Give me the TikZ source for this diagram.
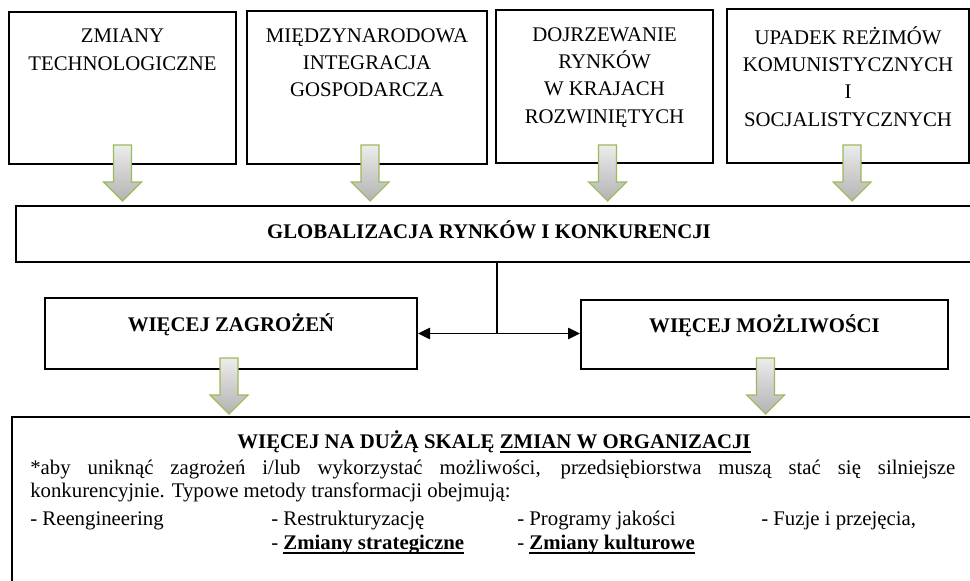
\documentclass[tikz,border=0pt]{standalone}
\usepackage{fontspec}
\setmainfont{Liberation Serif}
\usetikzlibrary{calc,arrows.meta}

\definecolor{arrowgreen}{RGB}{155,187,89}

% underline that runs just under the baseline
\newcommand{\undl}[1]{\setbox0\hbox{#1}\rlap{\rule[-3.6pt]{\wd0}{1.4pt}}\box0}

\begin{document}
\begin{tikzpicture}[x=0.75pt, y=-0.75pt,
    box/.style={draw, line width=1.5pt, rectangle, inner sep=0pt},
    boxtext/.style={anchor=north, align=center, inner sep=0pt,
        font=\fontsize{15.6pt}{20.5pt}\selectfont,
        execute at begin node=\strut},
    midbox/.style={box, font=\fontsize{15.6pt}{17.25pt}\selectfont\bfseries,
        text height=10.5pt, text depth=13.5pt},
    body/.style={inner sep=0pt, font=\fontsize{15.6pt}{17.25pt}\selectfont},
    link/.style={line width=1.1pt},
    blockarrow/.pic={
        \draw[draw=arrowgreen, line width=0.8pt, top color=gray!15, bottom color=gray!60]
            (0,0) -- (-19,-19) -- (-9,-19) -- (-9,-56) -- (9,-56) -- (9,-19) -- (19,-19) -- cycle;
    }]
    \clip (0,0) rectangle (970,581);

    % Four causes
    \node [box, minimum width=170.25pt, minimum height=114pt] (tech) at (122.5,88) {};
    \node [boxtext] at ([yshift=-13.5pt]tech.north) {ZMIANY\\TECHNOLOGICZNE};

    \node [box, minimum width=180pt, minimum height=114.75pt] (integr) at (367,87.5) {};
    \node [boxtext] at ([yshift=-13.5pt]integr.north) {MIĘDZYNARODOWA\\INTEGRACJA\\GOSPODARCZA};

    \node [box, minimum width=162.75pt, minimum height=114.75pt] (dojrz) at (604.5,86.5) {};
    \node [boxtext] at ([yshift=-13.5pt]dojrz.north) {DOJRZEWANIE\\RYNKÓW\\W KRAJACH\\ROZWINIĘTYCH};

    \node [box, minimum width=181.5pt, minimum height=115.5pt] (upadek) at (848,86) {};
    \node [boxtext] at ([yshift=-13.5pt]upadek.north) {UPADEK REŻIMÓW\\KOMUNISTYCZNYCH\\I\\SOCJALISTYCZNYCH};

    % Globalisation
    \node [box, minimum width=723pt, minimum height=42pt] (glob) at (498,234) {};
    \node [body, anchor=base, font=\fontsize{15.6pt}{17.25pt}\selectfont\bfseries] (globtext) at (489,238)
        {GLOBALIZACJA RYNKÓW I KONKURENCJI};

    % Threats and chances
    \node [midbox, minimum width=279pt, minimum height=53.25pt] (threats) at (231,333.5) {WIĘCEJ ZAGROŻEŃ};
    \node [midbox, minimum width=275.25pt, minimum height=51.75pt] (opps) at (764.5,334.5) {WIĘCEJ MOŻLIWOŚCI};

    % Changes in the organisation
    \node [box, minimum width=726pt, minimum height=129.75pt] (orgbox) at (496,503.5) {};
    \node [body, anchor=base, font=\fontsize{15.6pt}{17.25pt}\selectfont\bfseries] (orgtitle) at (494,448)
        {WIĘCEJ NA DUŻĄ SKALĘ \undl{ZMIAN W ORGANIZACJI}};
    \node [body, anchor=north west, text width=693.75pt, align=justify,
        execute at begin node=\strut] (orgpara) at (30,458)
        {*aby uniknąć zagrożeń i/lub wykorzystać możliwości, przedsiębiorstwa muszą stać się silniejsze\linebreak
        konkurencyjnie. Typowe metody transformacji obejmują:};
    \node [body, anchor=base west] (reeng) at (30,525) {- Reengineering};
    \node [body, anchor=base west] (restr) at (271,525) {- Restrukturyzację};
    \node [body, anchor=base west] (jakosc) at (517,525) {- Programy jakości};
    \node [body, anchor=base west] (fuzje) at (761,525) {- Fuzje i przejęcia,};
    \node [body, anchor=base west] (strat) at (271,549) {- \textbf{\undl{Zmiany strategiczne}}};
    \node [body, anchor=base west] (kult) at (517,549) {- \textbf{\undl{Zmiany kulturowe}}};

    % Split into both directions
    \coordinate (split) at (497,333.5);
    \draw [link] (split |- glob.south) -- (split);
    \draw [link, -{Triangle[length=9pt,width=8.5pt]}] (split) -- (threats.east);
    \draw [link, -{Triangle[length=9pt,width=8.5pt]}] (split) -- (split -| opps.west);

    % Block arrows
    \pic at ($(tech.south |- glob.north)+(0,-4)$) {blockarrow};
    \pic at ($(integr.south |- glob.north)+(3,-4)$) {blockarrow};
    \pic at ($(dojrz.south |- glob.north)+(3,-4)$) {blockarrow};
    \pic at ($(upadek.south |- glob.north)+(4,-4)$) {blockarrow};
    \pic at ($(threats.south |- orgbox.north)+(-2,-2)$) {blockarrow};
    \pic at ($(opps.south |- orgbox.north)+(1,-2)$) {blockarrow};
\end{tikzpicture}
\end{document}
